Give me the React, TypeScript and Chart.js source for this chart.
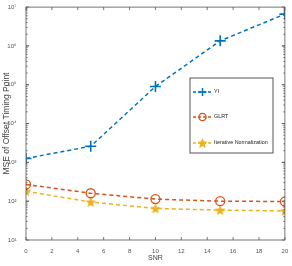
import React, { useEffect, useRef } from "react";
import { Chart, registerables } from "chart.js";

Chart.register(...registerables);

// SNR sample points (dB)
const snr = [0, 5, 10, 15, 20];
// MSE of the estimated offset timing point, per estimator
const yiMse = [1260, 2600, 90000, 1350000, 6600000];
const glrtMse = [270, 160, 113, 100, 98];
const inMse = [180, 95, 65, 59, 56];

const seriesNames = ["YI", "GLRT", "Iterative Normalization"];
const xTickValues = [0, 2, 4, 6, 8, 10, 12, 14, 16, 18, 20];
const yTickValues = [1e1, 1e2, 1e3, 1e4, 1e5, 1e6, 1e7];
const supDigits = ["⁰", "¹", "²", "³", "⁴", "⁵", "⁶", "⁷", "⁸", "⁹"];

const BLUE = "#0072BD";
const ORANGE = "#D95319";
const YELLOW = "#EDB120";
const FONT = "'Liberation Sans', Arial, sans-serif";

function powLabel(v: number) {
  const e = Math.round(Math.log10(v));
  return "10" + String(e).split("").map((d) => supDigits[+d]).join("");
}

function starPath(ctx: CanvasRenderingContext2D, cx: number, cy: number, r: number) {
  const inner = r * 0.45;
  ctx.beginPath();
  for (let i = 0; i < 10; i++) {
    const rad = i % 2 === 0 ? r : inner;
    const a = -Math.PI / 2 + (i * Math.PI) / 5;
    const px = cx + rad * Math.cos(a);
    const py = cy + rad * Math.sin(a);
    if (i === 0) ctx.moveTo(px, py);
    else ctx.lineTo(px, py);
  }
  ctx.closePath();
}

function makeStar(size: number, color: string) {
  const c = document.createElement("canvas");
  c.width = size;
  c.height = size;
  const ctx = c.getContext("2d")!;
  starPath(ctx, size / 2, size / 2 + 0.5, size / 2 - 0.5);
  ctx.fillStyle = color;
  ctx.fill();
  return c;
}

function drawMarker(ctx: CanvasRenderingContext2D, kind: number, x: number, y: number) {
  ctx.save();
  ctx.setLineDash([]);
  if (kind === 0) {
    ctx.strokeStyle = BLUE;
    ctx.lineWidth = 1.5;
    ctx.beginPath();
    ctx.moveTo(x - 4, y);
    ctx.lineTo(x + 4, y);
    ctx.moveTo(x, y - 4);
    ctx.lineTo(x, y + 4);
    ctx.stroke();
  } else if (kind === 1) {
    ctx.strokeStyle = ORANGE;
    ctx.lineWidth = 1.3;
    ctx.beginPath();
    ctx.arc(x, y, 3.6, 0, Math.PI * 2);
    ctx.stroke();
  } else {
    ctx.fillStyle = YELLOW;
    starPath(ctx, x, y + 0.5, 5.5);
    ctx.fill();
  }
  ctx.restore();
}

// Box frame, inward major/minor ticks on all sides, and the legend panel
const framePlugin = {
  id: "frame",
  afterDraw(chart: any) {
    const { ctx, chartArea: a, scales } = chart;
    const xs = scales.x;
    const ys = scales.y;
    ctx.save();
    ctx.strokeStyle = "#555";
    ctx.lineWidth = 0.8;
    ctx.strokeRect(a.left, a.top, a.right - a.left, a.bottom - a.top);
    ctx.beginPath();
    for (const v of xTickValues) {
      const px = xs.getPixelForValue(v);
      ctx.moveTo(px, a.bottom);
      ctx.lineTo(px, a.bottom - 3);
      ctx.moveTo(px, a.top);
      ctx.lineTo(px, a.top + 3);
    }
    for (let e = 1; e <= 6; e++) {
      for (let m = 1; m <= 10; m++) {
        const v = m * Math.pow(10, e);
        const py = ys.getPixelForValue(v);
        const len = m === 1 || m === 10 ? 3 : 1.6;
        ctx.moveTo(a.left, py);
        ctx.lineTo(a.left + len, py);
        ctx.moveTo(a.right, py);
        ctx.lineTo(a.right - len, py);
      }
    }
    ctx.stroke();

    // legend panel
    const lx = 190;
    const ly = 78;
    const lw = 83;
    const lh = 75;
    ctx.fillStyle = "#fff";
    ctx.fillRect(lx, ly, lw, lh);
    ctx.strokeStyle = "#444";
    ctx.lineWidth = 0.9;
    ctx.strokeRect(lx, ly, lw, lh);
    const colors = [BLUE, ORANGE, YELLOW];
    const rows = [92, 117, 143];
    ctx.font = `5.4px ${FONT}`;
    ctx.textBaseline = "middle";
    seriesNames.forEach((name, i) => {
      const y = rows[i];
      ctx.strokeStyle = colors[i];
      ctx.lineWidth = 1.4;
      ctx.setLineDash([3, 2]);
      ctx.beginPath();
      ctx.moveTo(193, y);
      ctx.lineTo(212, y);
      ctx.stroke();
      ctx.setLineDash([]);
      drawMarker(ctx, i, 202.5, y);
      ctx.fillStyle = "#222";
      ctx.fillText(name, 214, y);
    });
    ctx.restore();
  },
};

export default function App() {
  const ref = useRef<HTMLCanvasElement | null>(null);

  useEffect(() => {
    const canvas = ref.current;
    if (!canvas) return;
    const star = makeStar(12, YELLOW);
    const toPts = (ys: number[]) => snr.map((x, i) => ({ x, y: ys[i] }));
    const common = {
      borderWidth: 1.5,
      borderDash: [4, 3],
      tension: 0,
      fill: false,
    };
    const chart = new Chart(canvas, {
      type: "line",
      data: {
        datasets: [
          {
            ...common,
            label: seriesNames[0],
            data: toPts(yiMse),
            borderColor: BLUE,
            pointStyle: "cross",
            pointRadius: 5.5,
            pointBorderWidth: 1.6,
            pointBorderColor: BLUE,
          },
          {
            ...common,
            label: seriesNames[1],
            data: toPts(glrtMse),
            borderColor: ORANGE,
            pointStyle: "circle",
            pointRadius: 4.5,
            pointBorderWidth: 1.3,
            pointBorderColor: ORANGE,
            pointBackgroundColor: "rgba(0,0,0,0)",
          },
          {
            ...common,
            label: seriesNames[2],
            data: toPts(inMse),
            borderColor: YELLOW,
            pointStyle: star as any,
          },
        ],
      },
      options: {
        responsive: false,
        animation: false,
        layout: { padding: { top: 6, right: 4, left: 0, bottom: 0 } },
        plugins: { legend: { display: false }, tooltip: { enabled: false } },
        scales: {
          x: {
            type: "linear",
            min: 0,
            max: 20,
            afterBuildTicks: (s: any) => {
              s.ticks = xTickValues.map((v) => ({ value: v }));
            },
            afterFit: (s: any) => {
              s.height = 26;
            },
            grid: { display: false },
            border: { display: false },
            ticks: {
              padding: 0,
              color: "#555",
              font: { family: FONT, size: 6 },
              maxRotation: 0,
              autoSkip: false,
            },
            title: {
              display: true,
              text: "SNR",
              color: "#444",
              font: { family: FONT, size: 7 },
              padding: { top: 0, bottom: 4 },
            },
          },
          y: {
            type: "logarithmic",
            min: 10,
            max: 1e7,
            afterBuildTicks: (s: any) => {
              s.ticks = yTickValues.map((v) => ({ value: v }));
            },
            afterFit: (s: any) => {
              s.width = 26;
            },
            grid: { display: false },
            border: { display: false },
            ticks: {
              padding: 1.5,
              color: "#555",
              font: { family: FONT, size: 6 },
              autoSkip: false,
              callback: (v: any) => powLabel(Number(v)),
            },
            title: {
              display: true,
              text: "MSE of Offset Timing Point",
              color: "#444",
              font: { family: FONT, size: 8.5 },
              padding: { top: 2, bottom: 0 },
            },
          },
        },
      },
      plugins: [framePlugin],
    });
    return () => chart.destroy();
  }, []);

  return (
    <div style={{ position: "absolute", left: 0, top: 0, width: 292, height: 266, background: "#fff" }}>
      <canvas ref={ref} width={292} height={266} style={{ width: 292, height: 266 }} />
    </div>
  );
}
